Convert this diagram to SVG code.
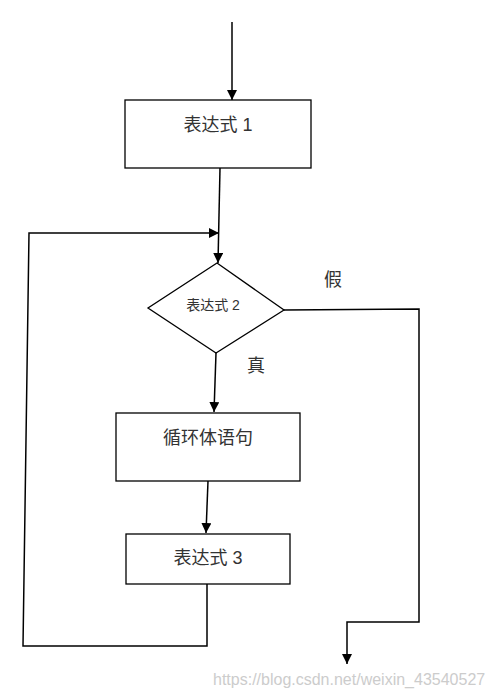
<svg xmlns="http://www.w3.org/2000/svg" width="494" height="697" viewBox="0 0 494 697">
<style>
.box{fill:#fff;stroke:#000;stroke-width:1.3}
.ln{fill:none;stroke:#000;stroke-width:1.5}
.t{font-family:"Liberation Sans","Noto Sans CJK SC",sans-serif;font-size:18px;fill:#333;text-anchor:middle}
.s{font-size:14px}
.wm{font-family:"Liberation Sans",sans-serif;font-size:16px;fill:#ccc}
</style>
<defs>
<marker id="ah" viewBox="0 0 10 10" refX="10" refY="5" markerWidth="10" markerHeight="10" markerUnits="userSpaceOnUse" orient="auto">
<path d="M0,0 L10,5 L0,10 Z" fill="#000"/>
</marker>
</defs>
<rect width="494" height="697" fill="#fff"/>
<g id="connectors">
<line class="ln" x1="232" y1="22" x2="232" y2="100" marker-end="url(#ah)"/>
<line class="ln" x1="220" y1="168" x2="218" y2="263" marker-end="url(#ah)"/>
<polyline class="ln" points="207,584 207,646 23,646 29,233 219,233" marker-end="url(#ah)"/>
<line class="ln" x1="216" y1="353" x2="214" y2="412" marker-end="url(#ah)"/>
<line class="ln" x1="208" y1="481" x2="206" y2="533" marker-end="url(#ah)"/>
<polyline class="ln" points="284,310 419,309 419,622 347,622 347,664" marker-end="url(#ah)"/>
<text class="t" x="333" y="286">假</text>
<text class="t" x="256" y="372">真</text>
</g>
<g id="expr1">
<rect class="box" x="125" y="100" width="186" height="68"/>
<text class="t" x="218" y="131">表达式 1</text>
</g>
<g id="expr2">
<polygon class="box" points="217,263 284,310 216,353 148,308"/>
<text class="t s" x="213" y="310">表达式 2</text>
</g>
<g id="body">
<rect class="box" x="116" y="413" width="184" height="68"/>
<text class="t" x="208" y="444">循环体语句</text>
</g>
<g id="expr3">
<rect class="box" x="126" y="534" width="164" height="50"/>
<text class="t" x="208" y="564">表达式 3</text>
</g>
<text class="wm" x="213" y="685">https://blog.csdn.net/weixin_43540527</text>
</svg>
